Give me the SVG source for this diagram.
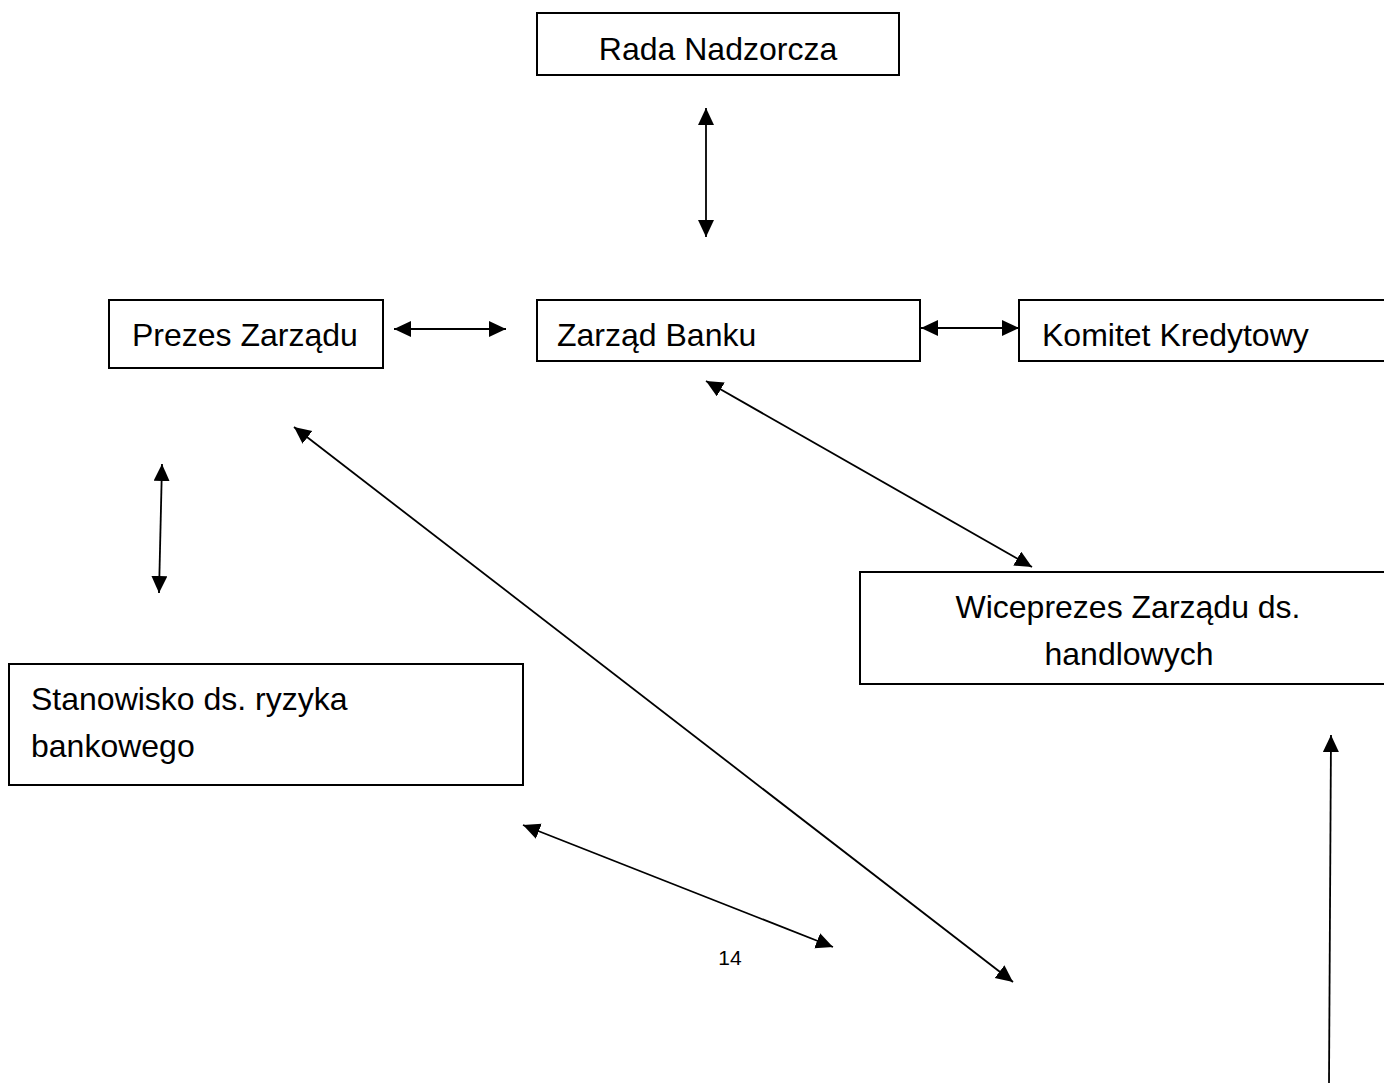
<svg xmlns="http://www.w3.org/2000/svg" width="1384" height="1083" viewBox="0 0 1384 1083">
<style>
.box{fill:#fff;stroke:#000;stroke-width:2}
.t{font-family:"Liberation Sans",Arial,sans-serif;font-size:32px;fill:#000}
.c{text-anchor:middle}
.conn line{stroke:#000;stroke-width:1.8;marker-start:url(#ah);marker-end:url(#ah)}
</style>
<defs>
<marker id="ah" markerUnits="userSpaceOnUse" markerWidth="20" markerHeight="18" refX="17" refY="8" orient="auto-start-reverse" viewBox="0 0 20 18">
<path d="M0,0 L17,8 L0,16 z" fill="#000"/>
</marker>
</defs>
<rect width="1384" height="1083" fill="#fff"/>
<g id="rada"><rect class="box" x="537" y="13" width="362" height="62"/><text class="t c" x="718" y="60">Rada Nadzorcza</text></g>
<g id="prezes"><rect class="box" x="109" y="300" width="274" height="68"/><text class="t" x="132" y="346">Prezes Zarządu</text></g>
<g id="zarzad"><rect class="box" x="537" y="300" width="383" height="61"/><text class="t" x="557" y="346">Zarząd Banku</text></g>
<g id="komitet"><rect class="box" x="1019" y="300" width="380" height="61"/><text class="t" x="1042" y="346">Komitet Kredytowy</text></g>
<g id="wiceprezes"><rect class="box" x="860" y="572" width="540" height="112"/><text class="t c" x="1128" y="618">Wiceprezes Zarządu ds.</text><text class="t c" x="1129" y="665">handlowych</text></g>
<g id="stanowisko"><rect class="box" x="9" y="664" width="514" height="121"/><text class="t" x="31" y="710">Stanowisko ds. ryzyka</text><text class="t" x="31" y="757">bankowego</text></g>
<text id="page" x="730" y="965" font-family="'Liberation Sans',Arial,sans-serif" font-size="21" text-anchor="middle">14</text>
<g id="connectors" class="conn">
<line x1="706" y1="108" x2="706" y2="237"/>
<line x1="394" y1="329" x2="506" y2="329"/>
<line x1="921" y1="328" x2="1019" y2="328"/>
<line x1="706" y1="381" x2="1032" y2="567"/>
<line x1="162" y1="464" x2="159" y2="593"/>
<line x1="294" y1="427" x2="1013" y2="982"/>
<line x1="523" y1="825" x2="833" y2="947"/>
<line x1="1329" y1="1083" x2="1331" y2="735" style="marker-start:none"/>
</g>
</svg>
